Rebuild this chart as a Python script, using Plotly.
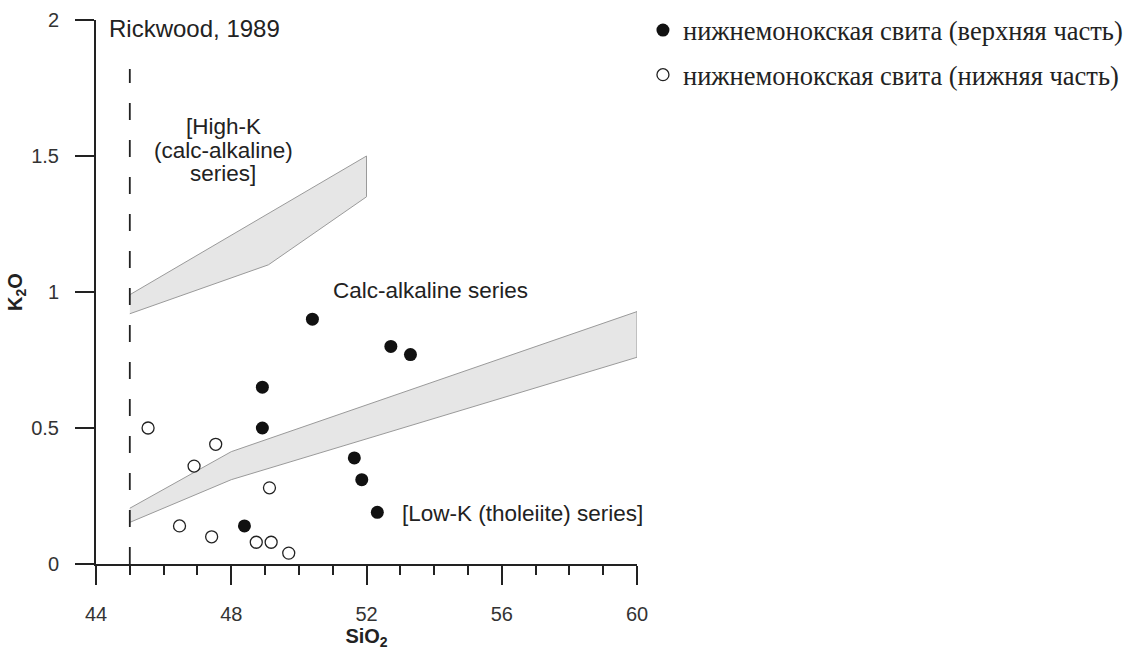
import plotly.graph_objects as go

# ---- data ----
upper_si = [50.40, 52.72, 53.30, 48.92, 48.92, 51.64, 51.86, 52.32, 48.39]
upper_k = [0.90, 0.80, 0.77, 0.65, 0.50, 0.39, 0.31, 0.19, 0.14]

lower_si = [45.54, 47.54, 46.90, 49.13, 46.47, 47.42, 48.74, 49.18, 49.70]
lower_k = [0.50, 0.44, 0.36, 0.28, 0.14, 0.10, 0.08, 0.08, 0.04]

high_band_si = [45, 52, 52, 49.1, 45]
high_band_k = [0.99, 1.50, 1.35, 1.10, 0.92]

low_band_si = [45, 48, 60, 60, 48, 45]
low_band_k = [0.205, 0.413, 0.928, 0.76, 0.31, 0.153]

divider_si = [45, 45]
divider_k = [0, 1.82]

x_ticks = [44, 48, 52, 56, 60]
y_ticks = [0, 0.5, 1, 1.5, 2]
y_ticktext = ["0", "0.5", "1", "1.5", "2"]

name_upper = "нижнемонокская свита (верхняя часть)"
name_lower = "нижнемонокская свита (нижняя часть)"

INK = "#222222"
SANS = "Liberation Sans, Arial, sans-serif"
SERIF = "Liberation Serif, Times New Roman, serif"

fig = go.Figure()

fig.add_trace(go.Scatter(x=high_band_si, y=high_band_k, fill="toself",
                         fillcolor="#e6e6e6", mode="lines",
                         line=dict(color="#9a9a9a", width=1),
                         showlegend=False, hoverinfo="skip"))
fig.add_trace(go.Scatter(x=low_band_si, y=low_band_k, fill="toself",
                         fillcolor="#e6e6e6", mode="lines",
                         line=dict(color="#9a9a9a", width=1),
                         showlegend=False, hoverinfo="skip"))
fig.add_trace(go.Scatter(x=divider_si, y=divider_k, mode="lines",
                         line=dict(color=INK, width=1.8, dash="17px,20px"),
                         showlegend=False, hoverinfo="skip"))

fig.add_trace(go.Scatter(x=upper_si, y=upper_k, mode="markers", name=name_upper,
                         marker=dict(size=13, color="#111111",
                                     line=dict(color="#111111", width=0)),
                         legend="legend", cliponaxis=False))
fig.add_trace(go.Scatter(x=lower_si, y=lower_k, mode="markers", name=name_lower,
                         marker=dict(size=12, color="white",
                                     line=dict(color=INK, width=1.3)),
                         legend="legend2", cliponaxis=False))

annotations = [
    dict(x=44.33, y=1.967, text="Rickwood, 1989", xanchor="left", size=24),
    dict(x=47.76, y=1.607, text="[High-K", xanchor="center", size=22.5),
    dict(x=47.76, y=1.522, text="(calc-alkaline)", xanchor="center", size=22.5),
    dict(x=47.76, y=1.4375, text="series]", xanchor="center", size=22.5),
    dict(x=53.88, y=1.007, text="Calc-alkaline series", xanchor="center", size=22.5),
    dict(x=52.99, y=0.1875, text="[Low-K (tholeiite) series]", xanchor="left", size=22.5),
]
for a in annotations:
    size = a.pop("size")
    fig.add_annotation(xref="x", yref="y", showarrow=False, yanchor="middle",
                       font=dict(family=SANS, size=size, color=INK), **a)

fig.update_layout(
    width=1131, height=652,
    margin=dict(l=96, r=494, t=20, b=88, autoexpand=False),
    paper_bgcolor="white", plot_bgcolor="white",
    font=dict(family=SANS, color=INK),
    legend=dict(x=1.011, y=0.981, xanchor="left", yanchor="middle",
                font=dict(family=SERIF, size=26.5, color=INK),
                bgcolor="rgba(0,0,0,0)", borderwidth=0),
    legend2=dict(x=1.011, y=0.899, xanchor="left", yanchor="middle",
                 font=dict(family=SERIF, size=26.5, color=INK),
                 bgcolor="rgba(0,0,0,0)", borderwidth=0),
    xaxis=dict(range=[44, 60], tickvals=x_ticks, showgrid=False, zeroline=False,
               automargin=False,
               showline=True, linecolor=INK, linewidth=2,
               ticks="outside", ticklen=19, tickwidth=2, tickcolor=INK,
               tickfont=dict(family=SANS, size=20, color="#333333"),
               ticklabelstandoff=12,
               minor=dict(dtick=1, ticks="outside", ticklen=9, tickwidth=2,
                          tickcolor=INK, showgrid=False),
               title=dict(text="<b>SiO<sub>2</sub></b>",
                          font=dict(family=SANS, size=20, color=INK), standoff=3)),
    yaxis=dict(range=[0, 2], tickvals=y_ticks, ticktext=y_ticktext,
               showgrid=False, zeroline=False, automargin=False,
               showline=True, linecolor=INK, linewidth=2,
               ticks="outside", ticklen=19, tickwidth=2, tickcolor=INK,
               tickfont=dict(family=SANS, size=20, color="#333333"),
               ticklabelstandoff=12,
               title=dict(text="<b>K<sub>2</sub>O</b>",
                          font=dict(family=SANS, size=20, color=INK), standoff=3)),
)

fig.write_html("out.html",
               config={"displayModeBar": False},
               post_script="document.body.style.margin='0px';"
                           "document.body.style.overflow='hidden';")
